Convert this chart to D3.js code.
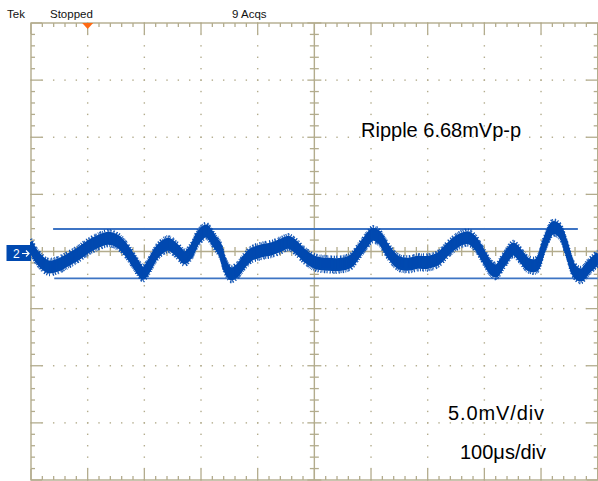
<!DOCTYPE html>
<html>
  <head>
    <style>
      body { margin: 0; background: #fff; }
      text { font-family: Arial, "Liberation Sans", sans-serif; }
    </style>
  </head>
  <body>
    <!-- Load the d3.js library -->
    <script src="https://d3js.org/d3.v7.min.js"></script>
    <div id="chart"></div>
    <script>
      // Channel 2 trace: time in us, level in mV
      var timeUs = [0, 12, 30, 48, 65, 83, 101, 118, 136, 154, 171, 189, 198, 206, 224, 242,
                    259, 271, 283, 295, 309, 324, 334, 342, 353, 365, 377, 389, 406, 424, 442,
                    454, 465, 483, 501, 524, 548, 565, 577, 592, 603, 615, 630, 648, 665, 683,
                    701, 718, 736, 753, 771, 783, 798, 812, 821, 833, 851, 862, 877, 892, 906,
                    921, 933, 945, 959, 971, 983, 1000];
      var ch2mV = [0.42, -0.57, -1.33, -1.18, -0.74, -0.22, 0.42, 0.86, 1.16, 0.86, -0.07, -1.42,
                   -1.91, -1.44, 0.04, 0.63, 0.04, -0.54, 0.04, 1.21, 1.79, 0.86, 0.13, -1.18,
                   -1.97, -1.62, -0.83, -0.25, 0.04, 0.22, 0.57, 0.81, 0.51, -0.37, -0.95, -1.12,
                   -1.12, -0.83, -0.07, 0.92, 1.51, 1.21, 0.04, -0.95, -1.12, -0.95, -0.95, -0.66,
                   0.22, 0.92, 1.21, 0.81, -0.37, -1.47, -1.71, -0.89, 0.22, -0.25, -1.12, -1.18,
                   0.63, 2.08, 1.79, 0.28, -1.71, -2.06, -1.42, -0.6];

      // Horizontal cursors: level (mV), start and end (us)
      var cursorMv = [1.97, -2.35];
      var cursorStartUs = [39, 41];
      var cursorEndUs = [965, 1000];

      var triggerUs = 100;
      var headerLabels = ["Tek", "Stopped", "9 Acqs"];
      var noteLabels = ["Ripple 6.68mVp-p", "5.0mV/div", "100\u03bcs/div"];

      var width = 598, height = 481;
      var gridColor = "#b3ac8d", traceColor = "#0049b0", cursorColor = "#3d74c4";

      var svg = d3.select("#chart")
                  .append("svg")
                    .attr("width", width)
                    .attr("height", height)
                    .style("display", "block");

      svg.append("rect").attr("width", width).attr("height", height).attr("fill", "#fff");

      // 10 divisions of 100 us, 8 divisions of 5 mV
      var x = d3.scaleLinear().domain([0, 1000]).range([31, 597.7]);
      var y = d3.scaleLinear().domain([-20, 20]).range([480, 23]);

      var xMajor = d3.range(0, 1001, 100),
          xMinor = d3.range(0, 1001, 20),
          yMajor = d3.range(-20, 21, 5),
          yMinor = d3.range(-20, 21, 1);

      var grid = svg.append("g").attr("stroke", gridColor).attr("fill", gridColor);

      // Dotted graticule lines
      xMajor.slice(1, -1).filter(function(d) { return d !== 500; }).forEach(function(t) {
        grid.selectAll(null).data(yMinor).enter().append("rect")
            .attr("x", x(t) - 0.7).attr("y", function(d) { return y(d) - 0.7; })
            .attr("width", 1.4).attr("height", 1.4).attr("stroke", "none");
      });
      yMajor.slice(1, -1).filter(function(d) { return d !== 0; }).forEach(function(v) {
        grid.selectAll(null).data(xMinor).enter().append("rect")
            .attr("x", function(d) { return x(d) - 0.7; }).attr("y", y(v) - 0.7)
            .attr("width", 1.4).attr("height", 1.4).attr("stroke", "none");
      });

      // Frame and centre cross
      grid.append("rect")
          .attr("x", x(0)).attr("y", y(20))
          .attr("width", x(1000) - x(0)).attr("height", y(-20) - y(20))
          .attr("fill", "none").attr("stroke-width", 1.4);
      grid.append("line").attr("x1", x(500)).attr("x2", x(500))
          .attr("y1", y(20)).attr("y2", y(-20)).attr("stroke-width", 1.4);
      grid.append("line").attr("x1", x(0)).attr("x2", x(1000))
          .attr("y1", y(0)).attr("y2", y(0)).attr("stroke-width", 1.4);

      function tickLen(isMajor, minor, major) { return isMajor ? major : minor; }

      // Ticks along top / bottom border and horizontal centre line
      xMinor.forEach(function(t) {
        var maj = t % 100 === 0;
        grid.append("line").attr("x1", x(t)).attr("x2", x(t))
            .attr("y1", y(20)).attr("y2", y(20) + tickLen(maj, 4, 11)).attr("stroke-width", 1.3);
        grid.append("line").attr("x1", x(t)).attr("x2", x(t))
            .attr("y1", y(-20)).attr("y2", y(-20) - tickLen(maj, 4, 11)).attr("stroke-width", 1.3);
        var c = tickLen(maj, 4.5, 7);
        grid.append("line").attr("x1", x(t)).attr("x2", x(t))
            .attr("y1", y(0) - c).attr("y2", y(0) + c).attr("stroke-width", 1.3);
      });
      // Ticks along left / right border and vertical centre line
      yMinor.forEach(function(v) {
        var maj = v % 5 === 0;
        grid.append("line").attr("y1", y(v)).attr("y2", y(v))
            .attr("x1", x(0)).attr("x2", x(0) + tickLen(maj, 4, 11)).attr("stroke-width", 1.3);
        grid.append("line").attr("y1", y(v)).attr("y2", y(v))
            .attr("x1", x(1000)).attr("x2", x(1000) - tickLen(maj, 4, 11)).attr("stroke-width", 1.3);
        var c = tickLen(maj, 4.5, 7);
        grid.append("line").attr("y1", y(v)).attr("y2", y(v))
            .attr("x1", x(500) - c).attr("x2", x(500) + c).attr("stroke-width", 1.3);
      });

      // Cursors
      svg.selectAll(".cursor")
          .data(cursorMv)
        .enter().append("line")
          .attr("class", "cursor")
          .attr("x1", function(d, i) { return x(cursorStartUs[i]); })
          .attr("x2", function(d, i) { return x(cursorEndUs[i]); })
          .attr("y1", function(d) { return y(d); })
          .attr("y2", function(d) { return y(d); })
          .attr("stroke", cursorColor)
          .attr("stroke-width", 1.8);

      // Trace
      svg.append("clipPath").attr("id", "screen")
        .append("rect").attr("x", x(0) - 1).attr("y", y(20))
          .attr("width", x(1000) - x(0) + 2).attr("height", y(-20) - y(20));

      var line = d3.line()
          .x(function(d, i) { return x(timeUs[i]); })
          .y(function(d) { return y(d); })
          .curve(d3.curveCatmullRom.alpha(0.5));

      var trace = svg.append("g").attr("clip-path", "url(#screen)");
      var path = line(ch2mV);

      // The noise spreads the trace vertically, so stack copies of the line
      // shifted up and down (pixel offsets) to get a vertical band.
      var coreOffsets = d3.range(-5, 5.1, 1);
      trace.selectAll(".core")
          .data(coreOffsets)
        .enter().append("path")
          .attr("class", "core")
          .attr("transform", function(d) { return "translate(0," + d + ")"; })
          .attr("d", path)
          .attr("fill", "none")
          .attr("stroke", traceColor)
          .attr("stroke-width", 3);

      // ragged edges of the band
      var fuzzOffsets = [-8, -7.5, 7.5, 8];
      trace.selectAll(".fuzz")
          .data(fuzzOffsets)
        .enter().append("path")
          .attr("class", "fuzz")
          .attr("transform", function(d) { return "translate(0," + d + ")"; })
          .attr("d", path)
          .attr("fill", "none")
          .attr("stroke", traceColor)
          .attr("stroke-width", 2.5)
          .attr("stroke-dasharray", function(d, i) {
            return ["1 2.3 0.8 1.6 1.2 3.1", "0.9 1.4 0.7 2.8 1.1 1.9",
                    "1.1 1.8 0.7 2.6 0.9 1.3", "0.8 2.9 1.2 1.5 0.7 2.2"][i];
          })
          .attr("opacity", 0.9);

      // Trigger position marker
      svg.append("path")
          .attr("d", "M" + (x(triggerUs) - 5.5) + "," + y(20) + "L" + (x(triggerUs) + 5.5) + "," + y(20) +
                     "L" + x(triggerUs) + "," + (y(20) + 6) + "Z")
          .attr("fill", "#ff6a13");

      // Channel 2 ground marker
      var mark = svg.append("g").attr("transform", "translate(0," + y(0) + ")");
      mark.append("rect").attr("x", 6.5).attr("y", -6.5).attr("width", 24.5).attr("height", 16)
          .attr("fill", traceColor);
      mark.append("text").attr("x", 13).attr("y", 6).attr("fill", "#fff")
          .style("font-size", "12px").text("2");
      mark.append("path").attr("d", "M22,2H29M26,-1L29,2L26,5")
          .attr("stroke", "#fff").attr("stroke-width", 1.2).attr("fill", "none");

      // Header
      svg.selectAll(".header")
          .data(headerLabels)
        .enter().append("text")
          .attr("class", "header")
          .attr("x", function(d, i) { return [7, 50, 232][i]; })
          .attr("y", 18)
          .style("font-size", "11.5px")
          .attr("fill", "#111")
          .text(function(d) { return d; });

      // Annotations
      svg.append("text").attr("x", 361).attr("y", 137)
          .style("font-size", "20px").text(noteLabels[0]);
      svg.append("text").attr("x", 448).attr("y", 420)
          .attr("textLength", 96).attr("lengthAdjust", "spacing")
          .style("font-size", "20px").text(noteLabels[1]);
      svg.append("text").attr("x", 546).attr("y", 459).attr("text-anchor", "end")
          .style("font-size", "20px").text(noteLabels[2]);
    </script>
  </body>
</html>
